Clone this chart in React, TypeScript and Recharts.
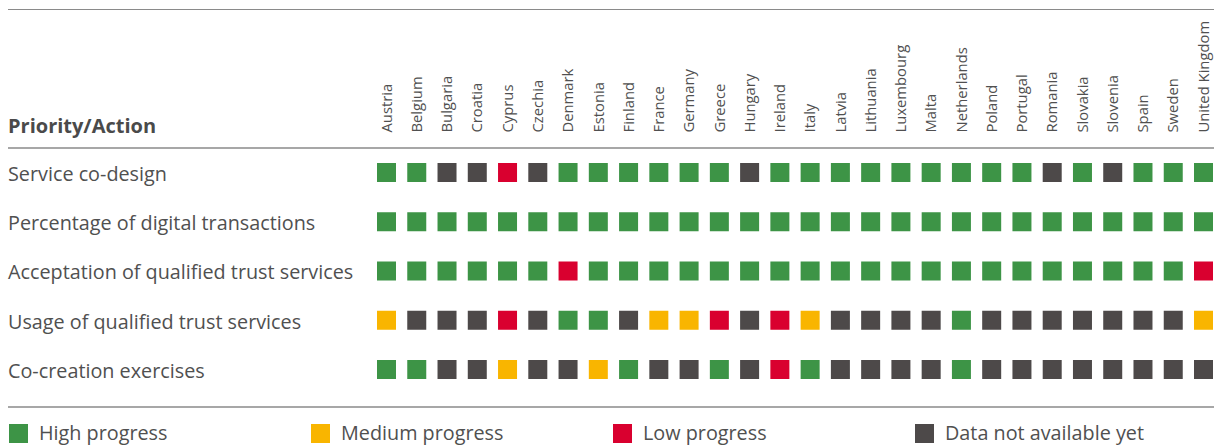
import React, { useEffect } from 'react'
import { ScatterChart, Scatter, XAxis, YAxis, Legend } from 'recharts'

const countries = [
  'Austria', 'Belgium', 'Bulgaria', 'Croatia', 'Cyprus', 'Czechia', 'Denmark',
  'Estonia', 'Finland', 'France', 'Germany', 'Greece', 'Hungary', 'Ireland',
  'Italy', 'Latvia', 'Lithuania', 'Luxembourg', 'Malta', 'Netherlands', 'Poland',
  'Portugal', 'Romania', 'Slovakia', 'Slovenia', 'Spain', 'Sweden', 'United Kingdom',
]

const actions = [
  'Service co-design',
  'Percentage of digital transactions',
  'Acceptation of qualified trust services',
  'Usage of qualified trust services',
  'Co-creation exercises',
]

// H = high, M = medium, L = low, N = data not available yet
const serviceCoDesign = ['H', 'H', 'N', 'N', 'L', 'N', 'H', 'H', 'H', 'H', 'H', 'H', 'N', 'H', 'H', 'H', 'H', 'H', 'H', 'H', 'H', 'H', 'N', 'H', 'N', 'H', 'H', 'H']
const digitalTransactions = ['H', 'H', 'H', 'H', 'H', 'H', 'H', 'H', 'H', 'H', 'H', 'H', 'H', 'H', 'H', 'H', 'H', 'H', 'H', 'H', 'H', 'H', 'H', 'H', 'H', 'H', 'H', 'H']
const trustAcceptation = ['H', 'H', 'H', 'H', 'H', 'H', 'L', 'H', 'H', 'H', 'H', 'H', 'H', 'H', 'H', 'H', 'H', 'H', 'H', 'H', 'H', 'H', 'H', 'H', 'H', 'H', 'H', 'L']
const trustUsage = ['M', 'N', 'N', 'N', 'L', 'N', 'H', 'H', 'N', 'M', 'M', 'L', 'N', 'L', 'M', 'N', 'N', 'N', 'N', 'H', 'N', 'N', 'N', 'N', 'N', 'N', 'N', 'M']
const coCreation = ['H', 'H', 'N', 'N', 'M', 'N', 'N', 'M', 'H', 'N', 'N', 'H', 'N', 'L', 'H', 'N', 'N', 'N', 'N', 'H', 'N', 'N', 'N', 'N', 'N', 'N', 'N', 'N']

const rows = [serviceCoDesign, digitalTransactions, trustAcceptation, trustUsage, coCreation]

const statusKeys = ['H', 'M', 'L', 'N']
const statusNames = ['High progress', 'Medium progress', 'Low progress', 'Data not available yet']
const statusColors = ['#3d9446', '#f9b500', '#d9002f', '#4d4949']

const points = rows.flatMap((row, r) => row.map((s, c) => ({ x: c, y: r, status: s })))

const FONT = '"Open Sans", sans-serif'
const TEXT = '#505050'
const SQ = 19

const Square = (p: any) => (
  <rect x={p.cx - SQ / 2} y={p.cy - SQ / 2} width={SQ} height={SQ} fill={p.fill} />
)

const CountryTick = ({ x, y, payload }: any) => (
  <text
    transform={`translate(${x},${y}) rotate(-90)`}
    textAnchor="start"
    dy="0.35em"
    fontSize={14.8}
    fontFamily={FONT}
    fill={TEXT}
  >
    {countries[payload.value]}
  </text>
)

const ActionTick = ({ y, payload }: any) => (
  <text x={8} y={y} dy="0.42em" textAnchor="start" fontSize={19.8} fontFamily={FONT} fill={TEXT}>
    {actions[payload.value]}
  </text>
)

const renderLegend = (props: any) => {
  const items = [...(props.payload || [])].sort(
    (a: any, b: any) => statusNames.indexOf(a.value) - statusNames.indexOf(b.value),
  )
  return (
    <div style={{ display: 'flex', height: 22, fontFamily: FONT }}>
      {items.map((p: any) => {
        const i = statusNames.indexOf(p.value)
        return (
          <div key={p.value} style={{ width: 302, display: 'flex', alignItems: 'center' }}>
            <span style={{ width: 19, height: 19, marginLeft: 9, marginRight: 11, background: statusColors[i] }} />
            <span style={{ fontSize: 19.8, color: TEXT, lineHeight: '22px' }}>{p.value}</span>
          </div>
        )
      })}
    </div>
  )
}

export default function App() {
  useEffect(() => {
    document.body.style.margin = '0'
  }, [])

  return (
    <div style={{ position: 'relative', width: 1214, height: 446, overflow: 'hidden', background: '#fff' }}>
      <ScatterChart width={1214} height={446} margin={{ top: 0, right: 10.5, bottom: 54.5, left: 0 }}>
        <XAxis
          type="number"
          dataKey="x"
          orientation="top"
          domain={[0, countries.length - 1]}
          ticks={countries.map((_, i) => i)}
          interval={0}
          height={172.5}
          tickSize={0}
          tickMargin={40}
          axisLine={false}
          tickLine={false}
          tick={<CountryTick />}
        />
        <YAxis
          type="number"
          dataKey="y"
          reversed
          domain={[0, actions.length - 1]}
          ticks={actions.map((_, i) => i)}
          interval={0}
          width={386.5}
          axisLine={false}
          tickLine={false}
          tick={<ActionTick />}
        />
        <Legend
          content={renderLegend}
          wrapperStyle={{ position: 'absolute', top: 422, left: 0, width: 1214 }}
        />
        {statusKeys.map((k, i) => (
          <Scatter
            key={k}
            name={statusNames[i]}
            data={points.filter((p) => p.status === k)}
            fill={statusColors[i]}
            shape={Square}
            isAnimationActive={false}
          />
        ))}
      </ScatterChart>
      <svg
        width={1214}
        height={446}
        style={{ position: 'absolute', left: 0, top: 0, pointerEvents: 'none' }}
      >
        <line x1={8} x2={1214} y1={9.5} y2={9.5} stroke="#8a8a8a" strokeWidth={1.2} />
        <line x1={8} x2={1214} y1={148} y2={148} stroke="#8a8a8a" strokeWidth={1.5} />
        <line x1={8} x2={1214} y1={407} y2={407} stroke="#8a8a8a" strokeWidth={1.5} />
        <text x={8} y={133} fontSize={20} fontWeight="bold" fontFamily={FONT} fill="#4a4a4a">
          Priority/Action
        </text>
      </svg>
    </div>
  )
}
